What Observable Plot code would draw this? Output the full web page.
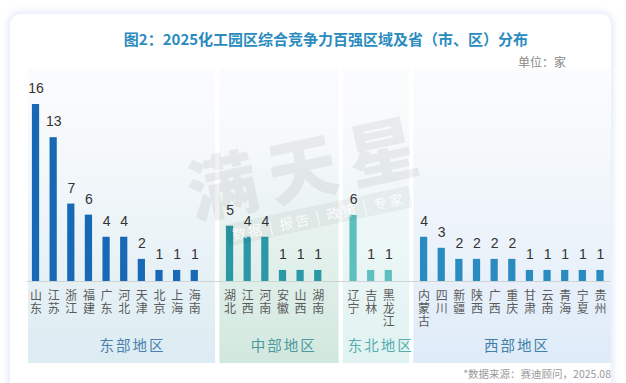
<!DOCTYPE html>
<html>
<head>
<meta charset="utf-8">
<script src="https://cdn.jsdelivr.net/npm/d3@7"></script>
<script src="https://cdn.jsdelivr.net/npm/@observablehq/plot@0.6"></script>
<style>
  html, body { margin: 0; padding: 0; }
  body { width: 626px; height: 383px; overflow: hidden; position: relative; background: #fff;
         font-family: "Noto Sans CJK SC", "Noto Sans", sans-serif; }
  .card { position: absolute; left: 10px; top: 14px; width: 601px; height: 390px; border-radius: 10px;
          background: #fff; box-shadow: 0 0 7px 2px rgba(200, 215, 240, 0.55); }
  #title { position: absolute; left: 26px; width: 600px; top: 29px; text-align: center;
           font-size: 15px; font-weight: 700; color: #2a8bbf; line-height: 20px; }
  #unit { position: absolute; right: 60px; top: 54px; font-size: 12px; color: #888; line-height: 16px; }
  #chart { position: absolute; left: 0; top: 68px; }
  #source { position: absolute; right: 15px; top: 367px; font-size: 10.5px; color: #9a9a9a; line-height: 14px; }
  #wm { position: absolute; left: 160px; top: 124px; width: 300px; height: 104px; transform: rotate(-12deg);
        transform-origin: 50% 50%; pointer-events: none; text-align: center; }
  #wm .big { font-size: 70px; line-height: 80px; font-weight: 900; color: rgba(0,0,0,0.06); letter-spacing: 12px; }
  #wm .sub { display: inline-block; font-size: 14px; line-height: 22px; letter-spacing: 2px; padding: 0 6px;
             background: rgba(0,0,0,0.045); color: rgba(255,255,255,0.85); }
  .region-label text { letter-spacing: 2px; }
  .tick-label text { writing-mode: vertical-rl; letter-spacing: 1px; }
</style>
</head>
<body>
<div class="card"></div>
<div id="title">图2：2025化工园区综合竞争力百强区域及省（市、区）分布</div>
<div id="unit">单位：家</div>
<div id="chart"></div>
<div id="source">*数据来源：赛迪顾问，2025.08</div>
<div id="wm"><div class="big">满天星</div><div class="sub">数据 | 报告 | 政策 | 专家</div></div>
<script>
// ---- data ----
const regionNames = ["东部地区", "中部地区", "东北地区", "西部地区"];
const eastNames = ["山东", "江苏", "浙江", "福建", "广东", "河北", "天津", "北京", "上海", "海南"];
const eastValues = [16, 13, 7, 6, 4, 4, 2, 1, 1, 1];
const midNames = ["湖北", "江西", "河南", "安徽", "山西", "湖南"];
const midValues = [5, 4, 4, 1, 1, 1];
const neNames = ["辽宁", "吉林", "黑龙江"];
const neValues = [6, 1, 1];
const westNames = ["内蒙古", "四川", "新疆", "陕西", "广西", "重庆", "甘肃", "云南", "青海", "宁夏", "贵州"];
const westValues = [4, 3, 2, 2, 2, 2, 1, 1, 1, 1, 1];

// ---- styles ----
const barColors = ["#1769b5", "#2b98a5", "#5ec0be", "#2a8bc1"];
const panelColors = ["#dcecf2", "#d1e8de", "#e0f3f1", "#dfebf9"];
const labelColors = ["#4a7fb0", "#4d98a0", "#58adb0", "#3f7fa8"];

const nameGroups = [eastNames, midNames, neNames, westNames];
const valueGroups = [eastValues, midValues, neValues, westValues];

const data = [];
const groups = [];
let p = 0;
regionNames.forEach((r, i) => {
  const first = p;
  nameGroups[i].forEach((n, j) => data.push({region: r, name: n, value: valueGroups[i][j], pos: p++}));
  groups.push({region: r, index: i, first, last: p - 1, spacer: p});
  p++;
});
const lastPos = p - 2;

// panel extents (in slot units)
groups.forEach((g, i) => {
  g.x1 = i === 0 ? g.first - 0.43 : groups[i - 1].spacer + 0.3 + 0.12;
  g.x2 = i === groups.length - 1 ? g.last + 0.62 : g.spacer + 0.3 - 0.12;
  g.cx = (g.x1 + g.x2) / 2 + (i === 0 ? 0.6 : 0.25);
});

const marks = [];
groups.forEach((g, i) => {
  marks.push(Plot.rect([g], {x1: "x1", x2: "x2", fill: `url(#panelGrad${i})`}));
});
marks.push(Plot.ruleY([0], {x1: () => -0.5, x2: () => lastPos + 0.62, stroke: "#cfd3d6", strokeWidth: 1}));
marks.push(Plot.rect(data, {
  x1: d => d.pos - 0.205, x2: d => d.pos + 0.205, y1: () => 0, y2: "value", fill: "region"
}));
marks.push(Plot.text(data, {
  x: "pos", y: "value", text: d => String(d.value), dy: -16, lineAnchor: "middle",
  fontSize: 14, fill: "#333", fontFamily: "Liberation Sans, Arial, sans-serif"
}));
marks.push(Plot.text(data, {
  x: "pos", y: () => 0, text: "name", lineAnchor: "bottom", dy: 8,
  fontSize: 12, fill: "#5a5a5a", fontFamily: "Noto Sans CJK SC", className: "tick-label"
}));
groups.forEach((g, i) => {
  marks.push(Plot.text([g], {
    x: "cx", frameAnchor: "bottom", dy: -17, lineAnchor: "middle", text: "region",
    fontSize: 14.5, fill: labelColors[i], fontFamily: "Noto Sans CJK SC", className: "region-label"
  }));
});

const chart = Plot.plot({
  width: 626,
  height: 300,
  marginTop: 0,
  marginBottom: 5,
  marginLeft: 26.7,
  marginRight: 17.2,
  style: {background: "transparent", fontFamily: "Noto Sans CJK SC"},
  x: {type: "linear", domain: [-0.5, lastPos + 0.5], axis: null},
  y: {domain: [0, 16], range: [213, 36], axis: null},
  color: {domain: regionNames, range: barColors},
  marks
});

// vertical (stacked) province names
d3.select(chart).selectAll(".tick-label text")
  .attr("dy", null)
  .attr("text-anchor", "start");

const defs = d3.select(chart).insert("defs", ":first-child");
panelColors.forEach((c, i) => {
  const lg = defs.append("linearGradient").attr("id", `panelGrad${i}`)
    .attr("x1", 0).attr("y1", 0).attr("x2", 0).attr("y2", 1);
  lg.append("stop").attr("offset", "0%").attr("stop-color", "#fbfcfd");
  lg.append("stop").attr("offset", "25%").attr("stop-color", "#f6f9fb");
  lg.append("stop").attr("offset", "100%").attr("stop-color", c);
});

document.getElementById("chart").appendChild(chart);
</script>
</body>
</html>
